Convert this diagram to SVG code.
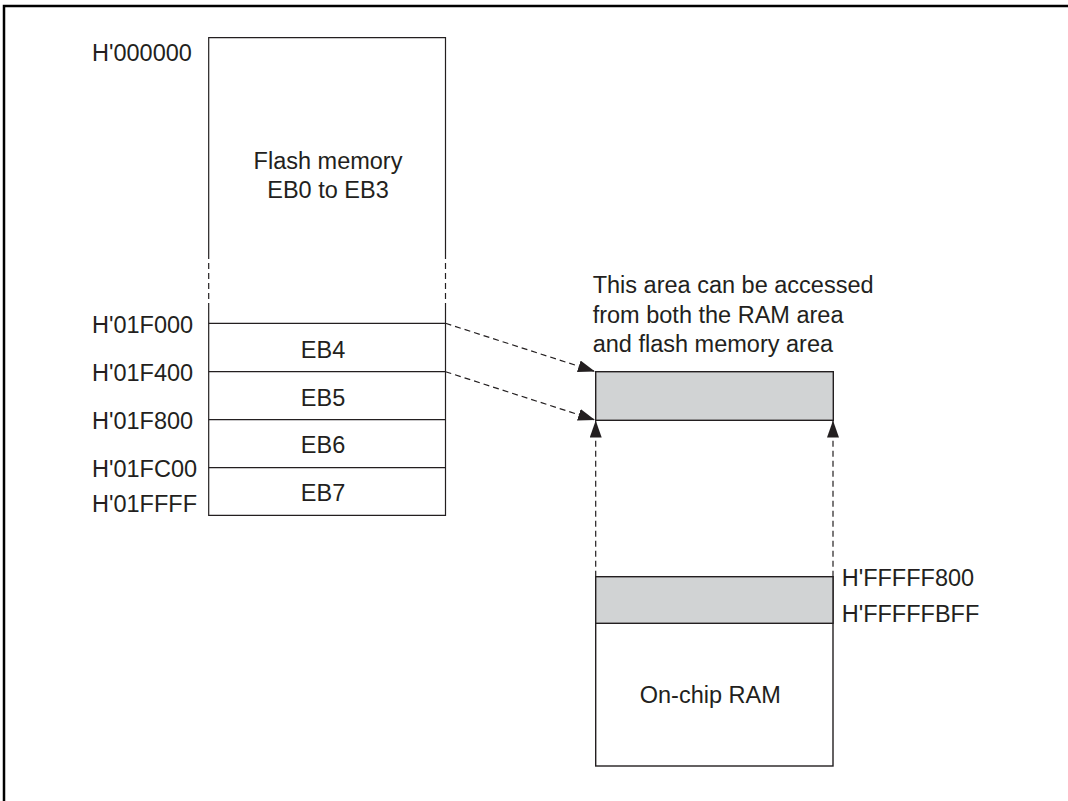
<svg xmlns="http://www.w3.org/2000/svg" width="1068" height="801" viewBox="0 0 1068 801">
<defs>
<style>
text{font-family:"Liberation Sans",Arial,sans-serif;font-size:23.5px;fill:#231f20}
.c{text-anchor:middle}
.box{fill:#fff;stroke:#231f20;stroke-width:1.4}
.gray{fill:#d1d3d4;stroke:#231f20;stroke-width:1.4}
.ln{stroke:#231f20;stroke-width:1.2;fill:none}
.dash{stroke:#231f20;stroke-width:1.2;fill:none;stroke-dasharray:6 4}
</style>
<marker id="ah" viewBox="0 0 17 12" refX="17" refY="6" markerWidth="17" markerHeight="12" markerUnits="userSpaceOnUse" orient="auto">
<path d="M0,0 L17,6 L0,12 z" fill="#231f20"/>
</marker>
</defs>
<rect x="0" y="0" width="1068" height="801" fill="#fff"/>
<path d="M4,801 V6 H1068" fill="none" stroke="#000" stroke-width="2.5"/>
<g id="flash">
<path class="ln" d="M208.7,253 V37.7 H445.5 V253"/>
<path class="dash" d="M208.7,253 V308 M445.5,253 V308"/>
<path class="ln" d="M208.7,308 V515.3 H445.5 V308"/>
<path class="ln" d="M208.7,323.3 H445.5 M208.7,371.7 H445.5 M208.7,419.7 H445.5 M208.7,467.7 H445.5"/>
<text class="c" x="328" y="169.3">Flash memory</text>
<text class="c" x="328" y="198.3">EB0 to EB3</text>
<text class="c" x="323" y="358.3">EB4</text>
<text class="c" x="323" y="406">EB5</text>
<text class="c" x="323" y="453.3">EB6</text>
<text class="c" x="323" y="501">EB7</text>
<text x="92" y="61">H'000000</text>
<text x="92" y="332.7">H'01F000</text>
<text x="92" y="381">H'01F400</text>
<text x="92" y="429.3">H'01F800</text>
<text x="92" y="476.7">H'01FC00</text>
<text x="92" y="511.7">H'01FFFF</text>
</g>
<g id="shared">
<rect class="gray" x="595.7" y="371.7" width="237.6" height="48.6"/>
<text x="592.7" y="293.3">This area can be accessed</text>
<text x="592.7" y="323.3">from both the RAM area</text>
<text x="592.7" y="351.7">and flash memory area</text>
</g>
<g id="ram">
<rect class="box" x="595.7" y="576.7" width="237.3" height="189.3"/>
<rect class="gray" x="595.7" y="576.7" width="237.3" height="46.6"/>
<text class="c" x="710.3" y="702.7">On-chip RAM</text>
<text x="841.7" y="585.7">H'FFFFF800</text>
<text x="841.7" y="621.7">H'FFFFFBFF</text>
</g>
<g id="connectors">
<line class="dash" x1="445.5" y1="323.3" x2="595" y2="371.5" marker-end="url(#ah)"/>
<line class="dash" x1="445.5" y1="371.7" x2="595" y2="420" marker-end="url(#ah)"/>
<line class="dash" x1="595.7" y1="576.7" x2="595.7" y2="420.5" marker-end="url(#ah)"/>
<line class="dash" x1="833" y1="576.7" x2="833" y2="420.5" marker-end="url(#ah)"/>
</g>
</svg>
